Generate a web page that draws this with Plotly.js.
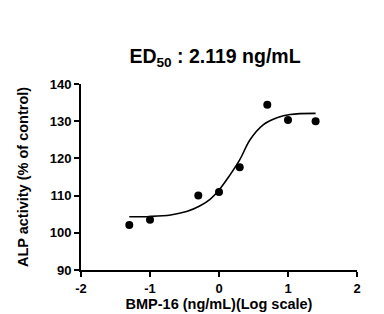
<!DOCTYPE html>
<html>
<head>
<meta charset="utf-8">
<script src="https://cdn.plot.ly/plotly-3.0.1.min.js"></script>
<style>
html,body{margin:0;padding:0;background:#fff;}
#chart{width:384px;height:314px;}
</style>
</head>
<body>
<div id="chart"></div>
<script>
// Measured points (log10 concentration, % of control)
const logConc = [-1.3, -1.0, -0.3, 0.0, 0.3, 0.7, 1.0, 1.4];
const activity = [102.1, 103.5, 110.0, 111.0, 117.6, 134.4, 130.3, 130.0];

// Fitted curve
const fitX = [-1.3, -1.0, -0.7, -0.47, -0.28, -0.13, 0.0, 0.15, 0.3, 0.45, 0.64, 0.84, 1.03, 1.4];
const fitY = [104.3, 104.4, 104.8, 105.7, 107.2, 109.0, 111.5, 115.3, 119.6, 125.0, 129.0, 130.9, 131.8, 132.1];

const xTicks = [-2, -1, 0, 1, 2];
const yTicks = [90, 100, 110, 120, 130, 140];

const titleText = 'ED<sub>50</sub> : 2.119 ng/mL';
const xTitle = 'BMP-16 (ng/mL)(Log scale)';
const yTitle = 'ALP activity (% of control)';

const fontFam = 'Arial, "Liberation Sans", sans-serif';

const traces = [
  {
    x: fitX, y: fitY, type: 'scatter', mode: 'lines',
    line: {color: '#000', width: 1.6, shape: 'spline', smoothing: 1},
    hoverinfo: 'skip'
  },
  {
    x: logConc, y: activity, type: 'scatter', mode: 'markers',
    marker: {color: '#000', size: 8, symbol: 'circle'}
  }
];

const layout = {
  width: 384, height: 314,
  margin: {l: 81, r: 27, t: 84, b: 44},
  paper_bgcolor: '#fff', plot_bgcolor: '#fff',
  showlegend: false,
  font: {family: fontFam, color: '#000', weight: 'bold'},
  title: {
    text: titleText,
    font: {family: fontFam, size: 19.5, color: '#000', weight: 'bold'},
    x: 215/384, xanchor: 'center', xref: 'container',
    y: 1 - 56/314, yanchor: 'middle', yref: 'container'
  },
  xaxis: {
    range: [-2, 2], tickvals: xTicks, ticktext: xTicks.map(String),
    showgrid: false, zeroline: false,
    showline: true, linecolor: '#000', linewidth: 2,
    ticks: 'outside', ticklen: 5, tickwidth: 2, tickcolor: '#000',
    tickfont: {family: fontFam, size: 13, color: '#000', weight: 'bold'},
    title: {text: xTitle, font: {family: fontFam, size: 14.5, color: '#000', weight: 'bold'}, standoff: 3}
  },
  yaxis: {
    range: [90, 140], tickvals: yTicks, ticktext: yTicks.map(String),
    showgrid: false, zeroline: false,
    showline: true, linecolor: '#000', linewidth: 2,
    ticks: 'outside', ticklen: 5, tickwidth: 2, tickcolor: '#000',
    tickfont: {family: fontFam, size: 13, color: '#000', weight: 'bold'},
    title: {text: yTitle, font: {family: fontFam, size: 14.5, color: '#000', weight: 'bold'}, standoff: 18}
  }
};

Plotly.newPlot('chart', traces, layout, {displayModeBar: false, staticPlot: true});
</script>
</body>
</html>
